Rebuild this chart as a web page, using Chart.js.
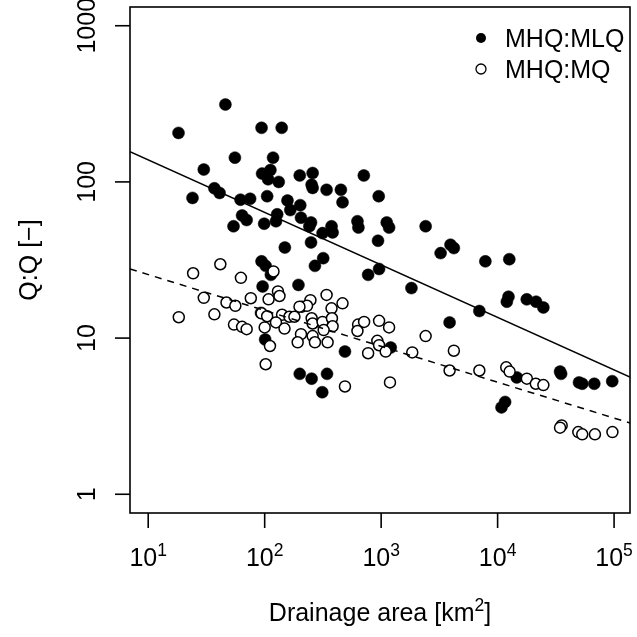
<!DOCTYPE html>
<html>
<head>
<meta charset="utf-8">
<script src="https://cdn.jsdelivr.net/npm/chart.js@4/dist/chart.umd.min.js"></script>
<style>
  html, body { margin: 0; padding: 0; background: #fff; }
  canvas { display: block; }
</style>
</head>
<body>
<canvas id="chart" width="637" height="637"></canvas>
<script>
// MHQ:MLQ ratios (filled) against drainage area, km²
const mlqArea = [46, 18.2, 94, 140, 55.5, 118, 30, 95, 112, 107, 132, 200, 37, 41, 24, 62, 75, 105, 157, 166,
    202, 64, 70, 54, 99, 128, 125, 205, 149, 94, 102, 113, 96, 195, 101, 93, 200, 253, 343, 312,
    489, 1208, 3870, 1820, 258, 253, 258, 340, 451, 466, 710, 953, 250, 242, 314, 375, 383, 626, 638, 1117,
    1170, 2410, 940, 250, 318, 270, 960, 773, 3240, 3940, 4210, 7850, 12600, 12400, 12000, 17800, 21400, 24700, 6970, 14600,
    34400, 35100, 50000, 53300, 67600, 96400, 11600, 10800];
const mlqRatio = [313, 206, 222, 222, 143, 143, 120, 113, 119, 104, 100, 110, 91, 85, 79, 77, 78, 81, 76, 66,
    71, 61, 57, 52, 54, 62, 56, 59, 38, 31, 29, 25.4, 21.4, 21.9, 9.8, 14.5, 5.9, 5.5, 5.9, 4.5,
    8.2, 8.7, 12.6, 20.9, 114, 96, 91.5, 89, 89, 74, 110, 81, 55, 52, 47, 52, 47.5, 56, 51, 55,
    51, 52, 42, 41, 32.5, 29, 27.7, 25.4, 35, 39.6, 37.7, 31, 32, 18.4, 17.1, 17.7, 17.1, 15.7, 14.9, 5.6,
    6.1, 5.9, 5.2, 5.1, 5.1, 5.3, 3.9, 3.6];

// MHQ:MQ ratios (open)
const mqArea = [24.3, 41.6, 62.5, 119, 130, 30, 76, 37, 18.3, 47, 56, 108, 134, 94, 105, 141, 163, 209, 247, 231,
    340, 375, 466, 54.5, 64, 70, 100, 125, 148, 180, 253, 258, 314, 378, 383, 321, 205, 258, 192, 270,
    347, 634, 714, 626, 960, 1170, 927, 960, 1094, 773, 1850, 2410, 4210, 3870, 489, 1191, 6970, 11860, 12680, 17830,
    21280, 24710, 35480, 34360, 49300, 53300, 68500, 96800, 102, 111, 199];
const mqRatio = [26, 29.7, 24.3, 26.7, 19.9, 18.1, 18, 14.2, 13.6, 16.9, 16.1, 17.7, 18.6, 14.4, 13.8, 14.1, 13.7, 15.9, 17.5, 16.1,
    18.9, 15.5, 16.7, 12.2, 11.8, 11.4, 11.7, 12.6, 11.5, 13.7, 13.4, 12.4, 12.7, 13.4, 11.9, 11.25, 10.6, 10.3, 9.4, 9.4,
    9.4, 12.2, 12.7, 11.1, 12.9, 11.7, 9.6, 9.0, 8.2, 8.0, 8.1, 10.3, 8.3, 6.2, 4.9, 5.2, 6.2, 6.5, 6.1, 5.5,
    5.1, 5.0, 2.76, 2.67, 2.5, 2.42, 2.42, 2.5, 6.8, 8.9, 15.9];

// fitted lines, end points at the axis limits
const fitArea = [6.976, 137000];
const fitMLQ = [156, 5.62];
const fitMQ = [27.7, 2.86];

const xTickExp = [1, 2, 3, 4, 5];
const yTickValues = [1, 10, 100, 1000];
const yTickLabels = ['1', '10', '100', '1000'];
const legendLabels = ['MHQ:MLQ', 'MHQ:MQ'];
const xTitle = 'Drainage area [km';
const yTitle = 'Q:Q [\u2212]';

const FAMILY = '"Liberation Sans", Arial, Helvetica, sans-serif';
const FONT = '25px ' + FAMILY;
const SUP = '17.5px ' + FAMILY;

function pairs(xs, ys) {
    return xs.map((x, i) => ({ x: x, y: ys[i] }));
}

// R-style frame, ticks, labels and legend
const framePlugin = {
    id: 'frame',
    afterDraw(chart) {
        const { ctx, chartArea: a, scales: { x, y } } = chart;
        ctx.save();
        ctx.strokeStyle = '#000';
        ctx.fillStyle = '#000';
        ctx.lineWidth = 1.6;
        ctx.strokeRect(a.left, a.top, a.right - a.left, a.bottom - a.top);

        // x axis ticks with 10^n labels
        xTickExp.forEach(e => {
            const px = x.getPixelForValue(Math.pow(10, e));
            ctx.beginPath();
            ctx.moveTo(px, a.bottom);
            ctx.lineTo(px, a.bottom + 15);
            ctx.stroke();
            ctx.font = FONT;
            const wb = ctx.measureText('10').width;
            ctx.font = SUP;
            const ws = ctx.measureText(String(e)).width;
            const start = px - (wb + ws) / 2;
            ctx.textAlign = 'left';
            ctx.textBaseline = 'alphabetic';
            ctx.font = FONT;
            ctx.fillText('10', start, 566);
            ctx.font = SUP;
            ctx.fillText(String(e), start + wb, 556);
        });

        // y axis ticks, labels parallel to the axis
        yTickValues.forEach((v, i) => {
            const py = y.getPixelForValue(v);
            ctx.beginPath();
            ctx.moveTo(a.left, py);
            ctx.lineTo(a.left - 15, py);
            ctx.stroke();
            ctx.save();
            ctx.translate(95, py);
            ctx.rotate(-Math.PI / 2);
            ctx.font = FONT;
            ctx.textAlign = 'center';
            ctx.textBaseline = 'alphabetic';
            ctx.fillText(yTickLabels[i], 0, 0);
            ctx.restore();
        });

        // axis titles
        const cx = (a.left + a.right) / 2;
        ctx.font = FONT;
        const wt = ctx.measureText(xTitle).width;
        const wbr = ctx.measureText(']').width;
        ctx.font = SUP;
        const w2 = ctx.measureText('2').width;
        let sx = cx - (wt + w2 + wbr) / 2;
        ctx.textAlign = 'left';
        ctx.font = FONT;
        ctx.fillText(xTitle, sx, 621);
        ctx.font = SUP;
        ctx.fillText('2', sx + wt, 611);
        ctx.font = FONT;
        ctx.fillText(']', sx + wt + w2, 621);

        ctx.save();
        ctx.translate(37, (a.top + a.bottom) / 2);
        ctx.rotate(-Math.PI / 2);
        ctx.textAlign = 'center';
        ctx.fillText(yTitle, 0, 0);
        ctx.restore();

        // legend
        ctx.beginPath();
        ctx.arc(481, 38, 5, 0, 2 * Math.PI);
        ctx.fill();
        ctx.beginPath();
        ctx.arc(481, 69, 5, 0, 2 * Math.PI);
        ctx.lineWidth = 1.3;
        ctx.stroke();
        ctx.font = FONT;
        ctx.textAlign = 'left';
        ctx.fillText(legendLabels[0], 505, 47);
        ctx.fillText(legendLabels[1], 505, 78);
        ctx.restore();
    }
};

new Chart(document.getElementById('chart'), {
    type: 'scatter',
    data: {
        datasets: [
            {
                label: legendLabels[0],
                data: pairs(mlqArea, mlqRatio),
                backgroundColor: '#000',
                borderColor: '#000',
                borderWidth: 0.5,
                pointRadius: 6,
                order: 3
            },
            {
                label: legendLabels[1],
                data: pairs(mqArea, mqRatio),
                backgroundColor: '#fff',
                borderColor: '#000',
                borderWidth: 1.5,
                pointRadius: 5.5,
                order: 2
            },
            {
                label: 'fit MLQ',
                data: pairs(fitArea, fitMLQ),
                showLine: true,
                borderColor: '#000',
                borderWidth: 1.5,
                pointRadius: 0,
                order: 1
            },
            {
                label: 'fit MQ',
                data: pairs(fitArea, fitMQ),
                showLine: true,
                borderColor: '#000',
                borderWidth: 1.5,
                borderDash: [7, 6],
                pointRadius: 0,
                order: 1
            }
        ]
    },
    options: {
        responsive: false,
        animation: false,
        devicePixelRatio: 1,
        layout: { padding: { top: 7, right: 5, left: 0, bottom: 0 } },
        plugins: {
            legend: { display: false },
            tooltip: { enabled: false }
        },
        scales: {
            x: {
                type: 'logarithmic',
                min: 6.976,
                max: 137000,
                ticks: { display: false },
                grid: { display: false },
                border: { display: false },
                afterFit(scale) { scale.height = 124; }
            },
            y: {
                type: 'logarithmic',
                min: Math.pow(10, -0.12),
                max: Math.pow(10, 3.12),
                ticks: { display: false },
                grid: { display: false },
                border: { display: false },
                afterFit(scale) { scale.width = 130; }
            }
        }
    },
    plugins: [framePlugin]
});
</script>
</body>
</html>
